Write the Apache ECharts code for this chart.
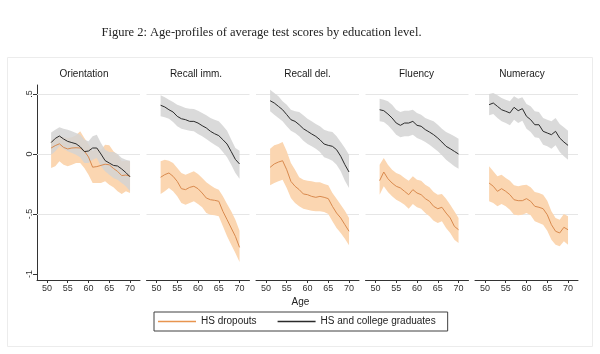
<!DOCTYPE html>
<html><head><meta charset="utf-8">
<script src="https://cdn.jsdelivr.net/npm/echarts@6.0.0/dist/echarts.min.js"></script>
<style>html,body{margin:0;padding:0;background:#fff}#c{width:600px;height:354px}</style>
</head><body><div id="c"></div><script>
// ---------------- data ----------------
const ages = [51,52,53,54,55,56,57,58,59,60,61,62,63,64,65,66,67,68,69,70];
const panelTitles = ['Orientation','Recall imm.','Recall del.','Fluency','Numeracy'];
const seriesNames = ['HS dropouts','HS and college graduates'];
const xTickValues = [50,55,60,65,70];
const yTickValues = [-1,-0.5,0,0.5];
const yTickLabels = ['-1','-.5','0','.5'];
const gridValues = [-0.5,0,0.5];
const captionText = 'Figure 2: Age-profiles of average test scores by education level.';
const xAxisTitle = 'Age';

// Orientation
const oriGradMean = [0.095,0.13,0.15,0.125,0.105,0.095,0.085,0.06,0.02,0.025,0.05,0.05,0.0,-0.055,-0.075,-0.095,-0.1,-0.125,-0.155,-0.19];
const oriGradHi   = [0.18,0.203,0.222,0.211,0.203,0.189,0.175,0.161,0.119,0.106,0.147,0.161,0.092,0.036,0.017,0.017,0.0,-0.033,-0.047,-0.056];
const oriGradLo   = [-0.006,0.022,0.064,0.044,0.022,0.008,-0.006,-0.028,-0.075,-0.075,-0.047,-0.033,-0.103,-0.144,-0.172,-0.2,-0.214,-0.242,-0.269,-0.311];
const oriDropMean = [0.05,0.07,0.085,0.055,0.042,0.05,0.052,0.05,0.025,-0.025,-0.11,-0.105,-0.095,-0.085,-0.09,-0.12,-0.145,-0.18,-0.175,-0.185];
const oriDropHi   = [0.111,0.133,0.153,0.139,0.133,0.139,0.156,0.189,0.133,0.083,0.022,0.05,0.036,0.078,0.072,0.022,-0.006,-0.061,-0.056,-0.061];
const oriDropLo   = [-0.117,-0.103,-0.061,-0.089,-0.103,-0.089,-0.075,-0.075,-0.117,-0.172,-0.242,-0.242,-0.242,-0.228,-0.256,-0.278,-0.311,-0.333,-0.311,-0.325];
// Recall immediate
const rimGradMean = [0.406,0.392,0.369,0.35,0.314,0.294,0.286,0.272,0.272,0.258,0.236,0.217,0.189,0.169,0.153,0.119,0.083,0.02,-0.045,-0.083];
const rimGradHi   = [0.489,0.472,0.453,0.433,0.411,0.397,0.383,0.378,0.375,0.361,0.342,0.322,0.3,0.286,0.272,0.236,0.194,0.12,0.05,0.028];
const rimGradLo   = [0.314,0.306,0.294,0.267,0.231,0.211,0.203,0.194,0.189,0.167,0.147,0.125,0.1,0.078,0.056,0.017,-0.028,-0.089,-0.158,-0.206];
const rimDropMean = [-0.194,-0.172,-0.158,-0.186,-0.228,-0.289,-0.297,-0.278,-0.269,-0.289,-0.325,-0.367,-0.381,-0.386,-0.394,-0.478,-0.547,-0.617,-0.686,-0.778];
const rimDropHi   = [-0.061,-0.047,-0.056,-0.075,-0.117,-0.158,-0.172,-0.158,-0.144,-0.167,-0.2,-0.236,-0.261,-0.283,-0.297,-0.353,-0.417,-0.478,-0.547,-0.639];
const rimDropLo   = [-0.333,-0.311,-0.283,-0.311,-0.353,-0.408,-0.422,-0.408,-0.394,-0.417,-0.444,-0.492,-0.506,-0.511,-0.519,-0.603,-0.686,-0.756,-0.825,-0.9];
// Recall delayed
const rdlGradMean = [0.444,0.425,0.397,0.369,0.328,0.286,0.272,0.244,0.211,0.189,0.167,0.147,0.119,0.083,0.072,0.064,0.036,-0.019,-0.089,-0.15];
const rdlGradHi   = [0.536,0.508,0.481,0.439,0.411,0.369,0.356,0.35,0.322,0.294,0.272,0.25,0.231,0.203,0.189,0.183,0.147,0.1,0.05,-0.006];
const rdlGradLo   = [0.356,0.328,0.3,0.272,0.231,0.194,0.175,0.147,0.111,0.083,0.064,0.044,0.017,-0.028,-0.039,-0.056,-0.089,-0.144,-0.222,-0.283];
const rdlDropMean = [-0.111,-0.083,-0.067,-0.056,-0.131,-0.228,-0.269,-0.297,-0.333,-0.339,-0.353,-0.361,-0.353,-0.361,-0.372,-0.436,-0.492,-0.533,-0.589,-0.644];
const rdlDropHi   = [0.044,0.072,0.083,0.1,0.022,-0.075,-0.131,-0.194,-0.214,-0.222,-0.228,-0.236,-0.236,-0.25,-0.261,-0.325,-0.372,-0.422,-0.472,-0.533];
const rdlDropLo   = [-0.261,-0.242,-0.228,-0.214,-0.283,-0.367,-0.408,-0.436,-0.456,-0.464,-0.472,-0.478,-0.478,-0.483,-0.5,-0.561,-0.617,-0.658,-0.706,-0.761];
// Fluency
const fluGradMean = [0.369,0.361,0.333,0.3,0.258,0.239,0.258,0.258,0.272,0.239,0.231,0.203,0.183,0.161,0.133,0.1,0.064,0.044,0.022,0.0];
const fluGradHi   = [0.461,0.453,0.439,0.411,0.369,0.35,0.361,0.361,0.369,0.342,0.328,0.3,0.286,0.272,0.244,0.211,0.183,0.167,0.147,0.128];
const fluGradLo   = [0.272,0.267,0.239,0.203,0.161,0.139,0.147,0.147,0.161,0.133,0.119,0.1,0.078,0.05,0.022,-0.011,-0.047,-0.075,-0.103,-0.122];
const fluDropMean = [-0.222,-0.15,-0.206,-0.242,-0.269,-0.283,-0.311,-0.339,-0.297,-0.325,-0.339,-0.372,-0.394,-0.436,-0.456,-0.444,-0.492,-0.533,-0.603,-0.631];
const fluDropHi   = [-0.089,-0.033,-0.089,-0.131,-0.158,-0.172,-0.2,-0.222,-0.186,-0.214,-0.222,-0.256,-0.278,-0.317,-0.339,-0.333,-0.372,-0.422,-0.478,-0.533];
const fluDropLo   = [-0.339,-0.269,-0.317,-0.353,-0.381,-0.4,-0.422,-0.456,-0.417,-0.444,-0.456,-0.492,-0.519,-0.556,-0.575,-0.561,-0.617,-0.658,-0.714,-0.742];
// Numeracy
const numGradMean = [0.411,0.425,0.397,0.369,0.356,0.342,0.389,0.361,0.378,0.314,0.286,0.244,0.244,0.189,0.175,0.161,0.189,0.133,0.1,0.072];
const numGradHi   = [0.5,0.508,0.489,0.467,0.453,0.439,0.481,0.461,0.472,0.417,0.397,0.356,0.35,0.3,0.286,0.272,0.3,0.25,0.222,0.194];
const numGradLo   = [0.322,0.333,0.3,0.272,0.258,0.239,0.286,0.258,0.278,0.211,0.183,0.139,0.133,0.078,0.064,0.044,0.072,0.017,-0.019,-0.047];
const numDropMean = [-0.242,-0.269,-0.311,-0.289,-0.311,-0.339,-0.381,-0.389,-0.389,-0.372,-0.394,-0.436,-0.444,-0.456,-0.506,-0.589,-0.644,-0.658,-0.611,-0.631];
const numDropHi   = [-0.103,-0.144,-0.186,-0.172,-0.2,-0.222,-0.261,-0.269,-0.261,-0.256,-0.278,-0.317,-0.325,-0.339,-0.389,-0.478,-0.533,-0.547,-0.5,-0.519];
const numDropLo   = [-0.394,-0.408,-0.436,-0.417,-0.436,-0.464,-0.506,-0.511,-0.506,-0.492,-0.511,-0.561,-0.575,-0.589,-0.639,-0.714,-0.756,-0.769,-0.728,-0.756];

const panels = [
  {gMean: oriGradMean, gHi: oriGradHi, gLo: oriGradLo, dMean: oriDropMean, dHi: oriDropHi, dLo: oriDropLo},
  {gMean: rimGradMean, gHi: rimGradHi, gLo: rimGradLo, dMean: rimDropMean, dHi: rimDropHi, dLo: rimDropLo},
  {gMean: rdlGradMean, gHi: rdlGradHi, gLo: rdlGradLo, dMean: rdlDropMean, dHi: rdlDropHi, dLo: rdlDropLo},
  {gMean: fluGradMean, gHi: fluGradHi, gLo: fluGradLo, dMean: fluDropMean, dHi: fluDropHi, dLo: fluDropLo},
  {gMean: numGradMean, gHi: numGradHi, gLo: numGradLo, dMean: numDropMean, dHi: numDropHi, dLo: numDropLo}
];

// ---------------- layout / style ----------------
const FONT = '"Liberation Sans", Arial, sans-serif';
const PANEL_LEFT0 = 37, PANEL_STEP = 109.5, PANEL_W = 103, GRID_TOP = 85, GRID_H = 195;
const X_MIN = 47.6, X_MAX = 72.4, Y_MIN = -1.05, Y_MAX = 0.575;
const titleCenters = [84, 196, 307.5, 416.5, 522];
const ORANGE_LINE = '#d98a4e', ORANGE_BAND = '#fbd6b1';
const DARK_LINE = '#2b2b2b', GRAY_BAND = '#d3d3d3';
const legendColors = ['#e8954f', DARK_LINE];
const LEGEND_ICON = 'path://M0,0H38V1.4H0Z';

function bandSeries(i, lo, hi, fill, opacity, name) {
  return {
    type: 'custom', name: name, xAxisIndex: i, yAxisIndex: i, z: 2, clip: true, silent: true,
    data: ages.map((a, k) => [a, lo[k], hi[k]]),
    encode: {x: 0, y: [1, 2]},
    renderItem: function (params, api) {
      if (params.dataIndex !== 0) return null;
      const pts = [];
      for (let k = 0; k < ages.length; k++) pts.push(api.coord([ages[k], hi[k]]));
      for (let k = ages.length - 1; k >= 0; k--) pts.push(api.coord([ages[k], lo[k]]));
      return {type: 'polygon', shape: {points: pts}, style: {fill: fill, opacity: opacity}};
    }
  };
}
function lineSeries(i, mean, color, name, withGrid) {
  const s = {
    type: 'line', name: name, xAxisIndex: i, yAxisIndex: i, z: 3,
    data: ages.map((a, k) => [a, mean[k]]),
    symbol: 'none', showSymbol: false, silent: true,
    lineStyle: {color: color, width: 1}, itemStyle: {color: color}
  };
  if (withGrid) {
    s.markLine = {
      silent: true, symbol: 'none', z: 1, animation: false,
      label: {show: false},
      lineStyle: {color: '#e6e6e6', width: 1, type: 'solid'},
      emphasis: {disabled: true},
      data: gridValues.map(v => ({yAxis: v}))
    };
  }
  return s;
}

const grids = [], xAxes = [], yAxes = [], series = [];
panels.forEach((p, i) => {
  grids.push({left: PANEL_LEFT0 + i * PANEL_STEP, top: GRID_TOP, width: PANEL_W, height: GRID_H, outerBoundsMode: 'none'});
  xAxes.push({
    type: 'value', gridIndex: i, min: X_MIN, max: X_MAX,
    axisLine: {show: true, onZero: false, lineStyle: {color: '#333', width: 1}},
    axisTick: {show: true, length: 3, customValues: xTickValues, lineStyle: {color: '#333'}},
    axisLabel: {customValues: xTickValues, fontSize: 9, color: '#333', margin: 4, fontFamily: FONT},
    splitLine: {show: false}
  });
  yAxes.push({
    type: 'value', gridIndex: i, min: Y_MIN, max: Y_MAX, show: i === 0,
    axisLine: {show: true, onZero: false, lineStyle: {color: '#333', width: 1}},
    axisTick: {show: true, length: 4, customValues: yTickValues, lineStyle: {color: '#333'}},
    axisLabel: {
      customValues: yTickValues, rotate: 90, fontSize: 9, color: '#333', margin: 3, fontFamily: FONT,
      formatter: v => { const j = yTickValues.findIndex(t => Math.abs(t - v) < 1e-9); return j >= 0 ? yTickLabels[j] : ''; }
    },
    splitLine: {show: false}
  });
  series.push(bandSeries(i, p.dLo, p.dHi, ORANGE_BAND, 1, 'band-d-' + i));
  series.push(bandSeries(i, p.gLo, p.gHi, GRAY_BAND, 0.85, 'band-g-' + i));
  series.push(lineSeries(i, p.dMean, ORANGE_LINE, seriesNames[0], true));
  series.push(lineSeries(i, p.gMean, DARK_LINE, seriesNames[1], false));
});

const graphics = [
  {type: 'rect', shape: {x: 7.5, y: 57.5, width: 585, height: 289}, style: {fill: 'none', stroke: '#ececec', lineWidth: 1}, silent: true, z: -10},
  {type: 'text', x: 261.5, y: 33, style: {text: captionText, font: '12.5px "Liberation Serif", "Times New Roman", serif', fill: '#222', textAlign: 'center', textVerticalAlign: 'middle'}},
  {type: 'text', x: 300.5, y: 302, style: {text: xAxisTitle, font: '10px ' + FONT, fill: '#222', textAlign: 'center', textVerticalAlign: 'middle'}}
];
panelTitles.forEach((t, i) => graphics.push({
  type: 'text', x: titleCenters[i], y: 74,
  style: {text: t, font: '10px ' + FONT, fill: '#1a1a1a', textAlign: 'center', textVerticalAlign: 'middle'}
}));

const chart = echarts.init(document.getElementById('c'), null, {renderer: 'canvas'});
chart.setOption({
  animation: false,
  backgroundColor: '#fff',
  grid: grids, xAxis: xAxes, yAxis: yAxes, series: series,
  legend: {
    data: seriesNames.map((n, j) => ({name: n, icon: LEGEND_ICON, itemStyle: {color: legendColors[j], opacity: 1, borderWidth: 0}})),
    left: 154, top: 312,
    itemWidth: 38, itemHeight: 11, itemGap: 21,
    symbolKeepAspect: true,
    padding: [4, 12, 4, 4],
    borderColor: '#404040', borderWidth: 1, borderRadius: 0,
    textStyle: {fontSize: 10, lineHeight: 11, color: '#222', fontFamily: FONT},
    selectedMode: false
  },
  graphic: graphics
});
</script></body></html>
